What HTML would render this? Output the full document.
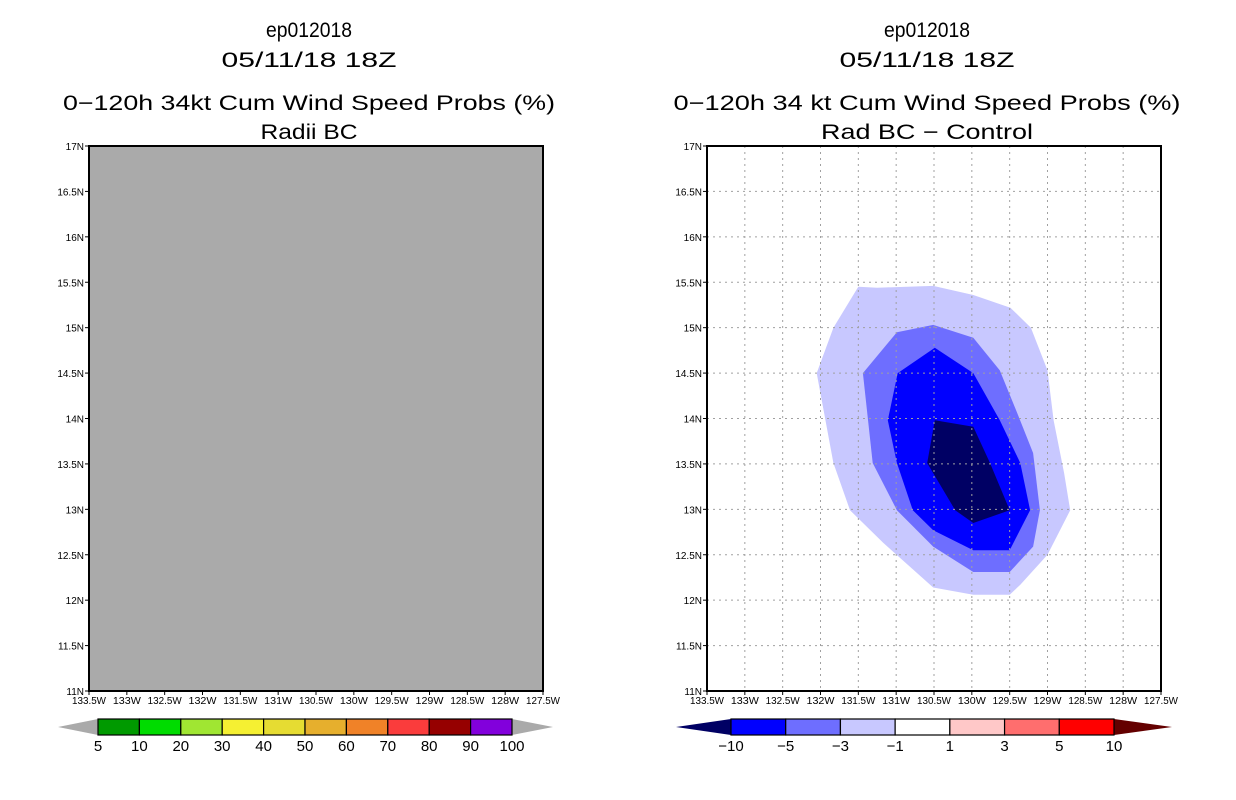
<!DOCTYPE html>
<html><head><meta charset="utf-8"><style>
html,body{margin:0;padding:0;background:#fff;}
svg{display:block;font-family:"Liberation Sans",sans-serif;}
</style></head><body>
<svg id="s" width="1236" height="800" viewBox="0 0 1236 800"></svg>
<script>
const lonTicks=[133.5,133,132.5,132,131.5,131,130.5,130,129.5,129,128.5,128,127.5];
const latTicks=[17,16.5,16,15.5,15,14.5,14,13.5,13,12.5,12,11.5,11];
const leftLevels=[5,10,20,30,40,50,60,70,80,90,100];
const leftColors=["#009a00","#00dc00","#a0e632","#f5f032","#e6dc32","#e6af2d","#f08228","#fa3c3c","#960000","#8200dc"];
const rightLevels=[-10,-5,-3,-1,1,3,5,10];
const rightColors=["#0000ff","#6e6eff","#c8c8ff","#ffffff","#ffc8c8","#ff6e6e","#ff0000"];
const contourLevelNames=["le-minus1","le-minus3","le-minus5","le-minus10"];
const contourFill=["#c8c8ff","#6e6eff","#0000ff","#000064"];
const cMinus1=[[131.5,15.45],[131.25,15.44],[130.51,15.46],[129.98,15.36],[129.49,15.22],[129.22,15.0],[129.0,14.53],[128.92,13.98],[128.78,13.4],[128.7,12.99],[129.0,12.5],[129.36,12.17],[129.5,12.06],[129.98,12.06],[130.51,12.14],[131.17,12.63],[131.61,12.99],[131.83,13.51],[132.05,14.5],[131.83,15.0]];
const cMinus3=[[130.99,14.95],[130.51,15.03],[129.98,14.89],[129.63,14.53],[129.4,14.06],[129.19,13.62],[129.1,12.99],[129.19,12.59],[129.5,12.31],[129.98,12.31],[130.51,12.59],[130.99,12.99],[131.31,13.51],[131.44,14.5]];
const cMinus5=[[130.98,14.5],[130.49,14.78],[129.98,14.5],[129.63,13.98],[129.36,13.51],[129.23,12.99],[129.5,12.55],[129.98,12.55],[130.51,12.77],[130.78,12.99],[130.99,13.51],[131.11,13.98]];
const cMinus10=[[130.49,13.98],[129.98,13.91],[129.76,13.51],[129.5,12.99],[129.98,12.85],[130.22,12.99],[130.59,13.51]];

const NS="http://www.w3.org/2000/svg";
const svg=document.getElementById('s');
function mk(tag,attrs,parent){const e=document.createElementNS(NS,tag);for(const k in attrs)e.setAttribute(k,attrs[k]);(parent||svg).appendChild(e);return e;}
function txt(str,x,y,size,anchor,len,parent){const t=mk('text',{x:x,y:y,'font-size':size,'text-anchor':anchor||'middle',fill:'#000'},parent);if(len){t.setAttribute('textLength',len);t.setAttribute('lengthAdjust','spacingAndGlyphs');}t.textContent=str;return t;}

function panel(x0,name,titles,sub){
  const x1=x0+454,y0=146,y1=691;
  const g=mk('g',{});
  
  
  const xs=lon=>x0+(133.5-lon)/6*(x1-x0);
  const ys=lat=>y0+(17-lat)/6*(y1-y0);
  const cx=x0+220;
  const t1=txt(titles[0],cx,37,21,'middle',86,g);
  const t2=txt(titles[1],cx,67,21,'middle',175,g);
  const t3=txt(titles[2],cx,110,21,'middle',titles[3],g);
  const t4=txt(sub[0],cx,139,21,'middle',sub[1],g);
  return {g,xs,ys,x0,x1,y0,y1};
}
function axes(p,grid){
  const g=p.g;
  if(grid){
    lonTicks.forEach(l=>{const x=p.xs(l);const ln=mk('line',{x1:x,x2:x,y1:p.y0,y2:p.y1,stroke:'#a0a0a0','stroke-dasharray':'2,4'},g);});
    latTicks.forEach(l=>{const y=p.ys(l);const ln=mk('line',{x1:p.x0,x2:p.x1,y1:y,y2:y,stroke:'#a0a0a0','stroke-dasharray':'2,4'},g);});
  }
  const fr=mk('rect',{x:p.x0,y:p.y0,width:p.x1-p.x0,height:p.y1-p.y0,fill:'none',stroke:'#000','stroke-width':2},g);
  
  lonTicks.forEach(l=>{const x=p.xs(l);mk('line',{x1:x,x2:x,y1:p.y1,y2:p.y1+4,stroke:'#000'},g);
    const t=txt(l+'W',x,p.y1+13,10,'middle',l%1?34:28,g);});
  latTicks.forEach(l=>{const y=p.ys(l);mk('line',{x1:p.x0-4,x2:p.x0,y1:y,y2:y,stroke:'#000'},g);
    const t=txt(l+'N',p.x0-5,y+4,10,'end',null,g);});
}
function colorbar(g,name,bx0,bx1,tip0,tip1,levels,colors,c0,c1){
  const cb=mk('g',{},g);
  
  
  const y0=719,y1=735,ym=727;
  const n=colors.length,w=(bx1-bx0)/n;
  mk('polygon',{points:`${tip0},${ym} ${bx0},${y0} ${bx0},${y1}`,fill:c0},cb);
  mk('polygon',{points:`${tip1},${ym} ${bx1},${y0} ${bx1},${y1}`,fill:c1},cb);
  colors.forEach((c,i)=>{const r=mk('rect',{x:bx0+i*w,y:y0,width:w,height:y1-y0,fill:c,stroke:'#000','stroke-width':1.2},cb);});
  levels.forEach((v,i)=>{const x=bx0+i*w;const t=txt(String(v).replace('-','\u2212'),x,751,15,'middle',null,cb);});
}
const L=panel(89,'left-panel-radii-bc',['ep012018','05/11/18 18Z','0\u2212120h 34kt Cum Wind Speed Probs (%)',492],['Radii BC',97]);
const bg=mk('rect',{x:L.x0,y:L.y0,width:L.x1-L.x0,height:L.y1-L.y0,fill:'#aaaaaa'},L.g);

axes(L,false);
colorbar(L.g,'left-colorbar',98,512,58,553,leftLevels,leftColors,'#aaaaaa','#aaaaaa');
const R=panel(707,'right-panel-difference',['ep012018','05/11/18 18Z','0\u2212120h 34 kt Cum Wind Speed Probs (%)',507],['Rad BC \u2212 Control',212]);
[cMinus1,cMinus3,cMinus5,cMinus10].forEach((poly,i)=>{
  const pts=poly.map(p=>R.xs(p[0]).toFixed(1)+','+R.ys(p[1]).toFixed(1)).join(' ');
  const pg=mk('polygon',{points:pts,fill:contourFill[i]},R.g);
  
  
});
axes(R,true);
colorbar(R.g,'right-colorbar',731,1114,676,1172,rightLevels,rightColors,'#000064','#640000');
</script>
</body></html>
